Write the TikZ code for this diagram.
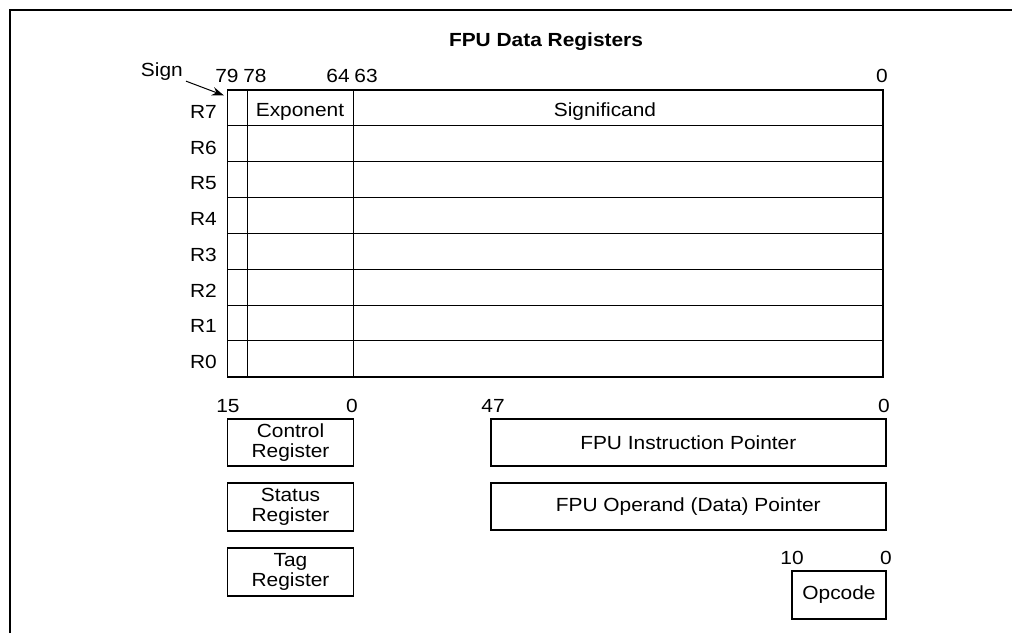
\documentclass[tikz,border=0pt]{standalone}
\usepackage{fontspec}
\setmainfont{Liberation Sans}[FakeStretch=1.1]
\usetikzlibrary{arrows.meta}

\tikzset{
  bitno/.style={anchor=base,inner sep=0pt},
  rowlbl/.style={anchor=base east,inner sep=0pt},
  regbox/.style={draw,line width=1.6pt,inner sep=0pt,align=center,
    font=\fontsize{19}{19.5}\selectfont},
  thinrule/.style={line width=0.9pt},
  thickrule/.style={line width=1.6pt}
}

\begin{document}
\begin{tikzpicture}[x=1pt,y=-1pt,font=\fontsize{19}{20}\selectfont]
  \useasboundingbox (0,0) rectangle (1012,633);
  \draw[line width=2.2pt] (10,633) -- (10,10) -- (1012,10);

  \node[bitno,font=\fontsize{19}{20}\selectfont\bfseries] (title) at (546,46) {FPU Data Registers};

  % register stack R7..R0
  \draw[thickrule] (227.5,90) rectangle (883,376.7);
  \draw[thinrule] (247,90) -- (247,376.7) (353,90) -- (353,376.7);
  \foreach \i in {1,...,7}
    \draw[thinrule] (227.5,90+35.84*\i) -- (883,90+35.84*\i);
  \foreach \r [count=\k from 0] in {7,...,0}
    \node[rowlbl] (lblR\r) at (217,118.5+35.7*\k) {R\r};
  \node[bitno] (expo) at (300,116.5) {Exponent};
  \node[bitno] (signif) at (605,116.5) {Significand};

  % bit numbers
  \node[bitno] (b79) at (227,82.7) {79};
  \node[bitno] (b78) at (255,82.7) {78};
  \node[bitno] (b64) at (338,82.7) {64};
  \node[bitno] (b63) at (366,82.7) {63};
  \node[bitno] (b0) at (882,82.7) {0};

  \node[anchor=base east,inner sep=1pt] (sign) at (184,76) {Sign};
  \coordinate (signtip) at (224,95.5);
  \draw[line width=1pt,-{Stealth[length=12pt,width=8.5pt]}] ([xshift=2pt]sign.south east) -- (signtip);

  % control, status, tag
  \node[bitno] (c15) at (228,412) {15};
  \node[bitno] (c0) at (352,412) {0};
  \node[regbox,minimum width=126pt,minimum height=47pt] (ctrl) at (290.5,442.5) {Control\\Register};
  \node[regbox,minimum width=126pt,minimum height=48pt] (stat) at (290.5,507) {Status\\Register};
  \node[regbox,minimum width=126pt,minimum height=48pt] (tag) at (290.5,572) {Tag\\Register};

  % pointers
  \node[bitno] (p47) at (493,412) {47};
  \node[bitno] (p0) at (884,412) {0};
  \node[regbox,minimum width=395pt,minimum height=47pt] (fip) at (688.3,442.5) {FPU Instruction Pointer};
  \node[regbox,minimum width=395pt,minimum height=47pt] (fdp) at (688.3,506.5) {FPU Operand (Data) Pointer};

  % opcode
  \node[bitno] (o10) at (792,564) {10};
  \node[bitno] (o0) at (886,564) {0};
  \node[regbox,minimum width=94pt,minimum height=48pt] (opc) at (839,595) {Opcode};
\end{tikzpicture}
\end{document}
